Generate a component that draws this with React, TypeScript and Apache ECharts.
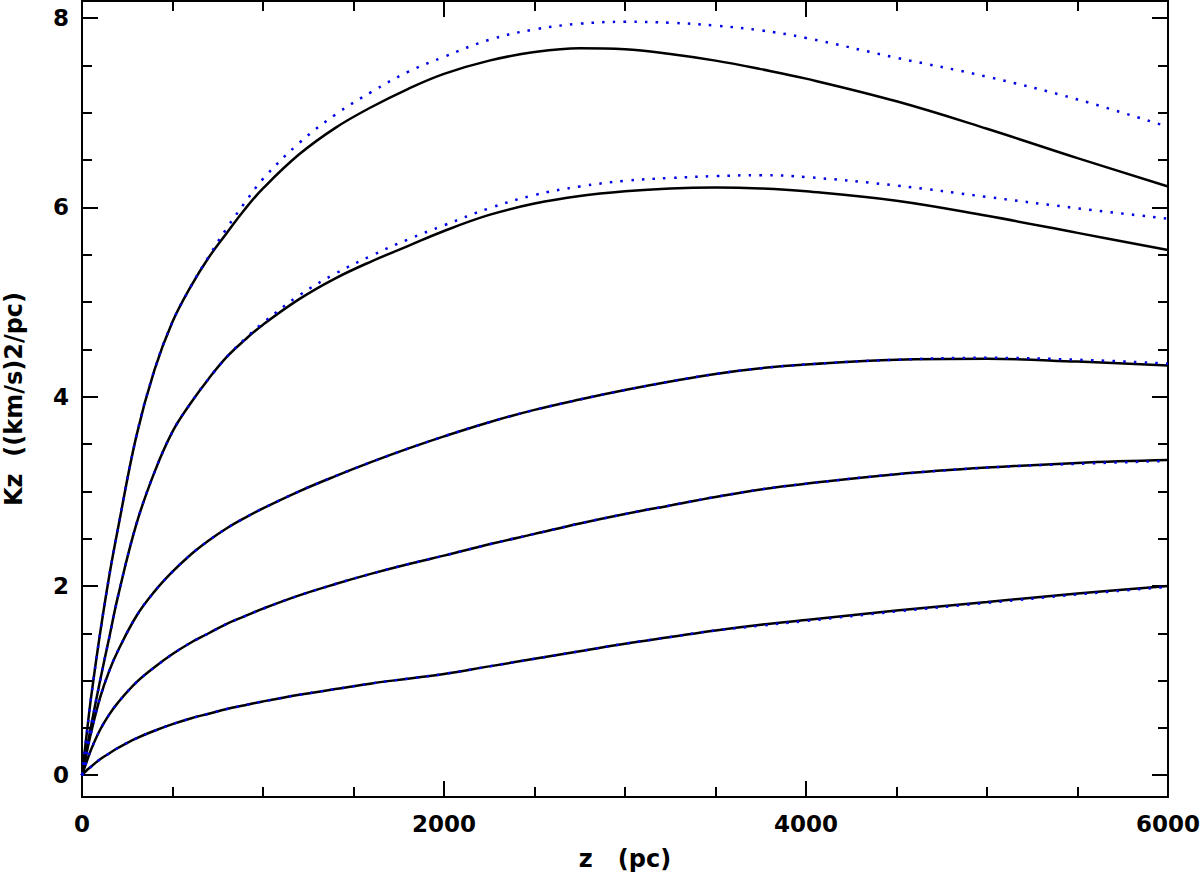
import React, { useEffect, useRef } from "react";
import * as echarts from "echarts";

// z (pc) sample positions shared by every curve
const Z = [0, 25, 50, 100, 150, 200, 300, 400, 500, 600, 700, 800, 900, 1000, 1200, 1400, 1600, 1800, 2000, 2250, 2500, 2750, 3000, 3250, 3500, 3750, 4000, 4500, 5000, 5500, 6000];

// Kz values, solid (black) and dotted (blue) pairs
const A_solid = [0, 0.42, 0.82, 1.5, 2.1, 2.62, 3.58, 4.28, 4.79, 5.16, 5.47, 5.73, 5.98, 6.2, 6.56, 6.84, 7.06, 7.25, 7.41, 7.55, 7.64, 7.68, 7.67, 7.62, 7.55, 7.46, 7.36, 7.12, 6.83, 6.52, 6.22];
const A_dot = [0, 0.42, 0.82, 1.5, 2.1, 2.62, 3.58, 4.28, 4.79, 5.16, 5.48, 5.78, 6.05, 6.3, 6.68, 6.98, 7.22, 7.43, 7.59, 7.77, 7.88, 7.94, 7.96, 7.95, 7.92, 7.87, 7.79, 7.58, 7.38, 7.14, 6.85];
const B_solid = [0, 0.26, 0.52, 1.0, 1.45, 1.9, 2.65, 3.2, 3.63, 3.93, 4.19, 4.42, 4.6, 4.76, 5.03, 5.25, 5.43, 5.59, 5.75, 5.92, 6.04, 6.12, 6.17, 6.2, 6.21, 6.2, 6.17, 6.07, 5.91, 5.73, 5.55];
const B_dot = [0, 0.26, 0.52, 1.0, 1.45, 1.9, 2.65, 3.2, 3.63, 3.93, 4.19, 4.42, 4.61, 4.78, 5.07, 5.3, 5.49, 5.66, 5.81, 5.99, 6.13, 6.22, 6.28, 6.31, 6.33, 6.34, 6.32, 6.23, 6.11, 5.99, 5.88];
const C_solid = [0, 0.23, 0.45, 0.82, 1.1, 1.32, 1.68, 1.94, 2.15, 2.33, 2.48, 2.61, 2.72, 2.82, 3.0, 3.16, 3.31, 3.45, 3.58, 3.73, 3.86, 3.97, 4.07, 4.16, 4.24, 4.3, 4.34, 4.39, 4.4, 4.37, 4.33];
const C_dot = [0, 0.23, 0.45, 0.82, 1.1, 1.32, 1.68, 1.94, 2.15, 2.33, 2.48, 2.61, 2.72, 2.82, 3.0, 3.16, 3.31, 3.45, 3.58, 3.73, 3.86, 3.97, 4.07, 4.16, 4.24, 4.3, 4.34, 4.39, 4.41, 4.39, 4.35];
const D_solid = [0, 0.14, 0.27, 0.48, 0.64, 0.77, 0.98, 1.14, 1.28, 1.4, 1.5, 1.6, 1.68, 1.76, 1.9, 2.02, 2.13, 2.23, 2.32, 2.44, 2.55, 2.66, 2.76, 2.85, 2.94, 3.02, 3.08, 3.18, 3.25, 3.3, 3.33];
const D_dot = [0, 0.14, 0.27, 0.48, 0.64, 0.77, 0.98, 1.14, 1.28, 1.4, 1.5, 1.6, 1.68, 1.76, 1.9, 2.02, 2.13, 2.23, 2.32, 2.44, 2.55, 2.66, 2.76, 2.85, 2.94, 3.02, 3.08, 3.18, 3.25, 3.29, 3.32];
const E_solid = [0, 0.05, 0.09, 0.17, 0.23, 0.29, 0.39, 0.47, 0.54, 0.6, 0.65, 0.7, 0.74, 0.78, 0.85, 0.91, 0.97, 1.02, 1.07, 1.15, 1.23, 1.31, 1.39, 1.46, 1.53, 1.59, 1.64, 1.74, 1.83, 1.92, 2.0];
const E_dot = [0, 0.05, 0.09, 0.17, 0.23, 0.29, 0.39, 0.47, 0.54, 0.6, 0.65, 0.7, 0.74, 0.78, 0.85, 0.91, 0.97, 1.02, 1.07, 1.15, 1.23, 1.31, 1.39, 1.46, 1.53, 1.58, 1.63, 1.73, 1.82, 1.91, 1.99];

const Y_MAJOR = [0, 2, 4, 6, 8];
const Y_MINOR = [0, 0.5, 1, 1.5, 2, 2.5, 3, 3.5, 4, 4.5, 5, 5.5, 6, 6.5, 7, 7.5, 8];

const FONT = "DejaVu Sans";

export default function App() {
  const ref = useRef<HTMLDivElement>(null);
  useEffect(() => {
    document.body.style.margin = "0";
    const chart = echarts.init(ref.current!, null, { renderer: "svg" });
    const toData = (v: number[]) => Z.map((z, i) => [z, v[i]]);
    const solid = (v: number[]) => ({
      type: "line",
      data: toData(v),
      showSymbol: false,
      smooth: 0.4,
      lineStyle: { color: "#000", width: 2.5 },
      z: 2,
    });
    const dotted = (v: number[]) => ({
      type: "line",
      data: toData(v),
      showSymbol: false,
      smooth: 0.4,
      lineStyle: { color: "#0000e6", width: 2.5, type: [2.5, 8.2], cap: "butt" },
      z: 3,
    });
    const axisLine = { show: true, onZero: false, lineStyle: { color: "#000", width: 2 } };
    const yBase = { type: "value", min: -0.23, max: 8.18, splitLine: { show: false }, axisLine };
    const xBase = {
      type: "value",
      min: 0,
      max: 6000,
      interval: 2000,
      splitLine: { show: false },
      axisLine,
      axisTick: { show: true, inside: true, length: 16, lineStyle: { color: "#000", width: 2 } },
      minorTick: { show: true, splitNumber: 4, length: 10, lineStyle: { color: "#000", width: 2 } },
      minorSplitLine: { show: false },
    };
    const nameStyle = { fontFamily: FONT, fontSize: 24, fontWeight: "bold", color: "#000" };
    const labelStyle = { fontFamily: FONT, fontSize: 23, fontWeight: "bold", color: "#000" };
    chart.setOption({
      animation: false,
      backgroundColor: "#fff",
      grid: { left: 82, right: 32, top: 1, bottom: 78, outerBoundsMode: "none", containLabel: false },
      xAxis: [
        {
          ...xBase,
          position: "bottom",
          name: "z   (pc)",
          nameLocation: "middle",
          nameGap: 50,
          nameTextStyle: nameStyle,
          axisLabel: { show: true, margin: 15, ...labelStyle, formatter: (v: number) => String(v) },
        },
        { ...xBase, position: "top", axisLabel: { show: false } },
      ],
      yAxis: [
        {
          ...yBase,
          position: "left",
          name: "Kz  ((km/s)2/pc)",
          nameLocation: "middle",
          nameGap: 56,
          nameTextStyle: nameStyle,
          axisTick: { show: true, inside: true, length: 16, customValues: Y_MAJOR, lineStyle: { color: "#000", width: 2 } },
          axisLabel: { show: true, margin: 13, customValues: Y_MAJOR, ...labelStyle, formatter: (v: number) => String(v) },
        },
        {
          ...yBase,
          position: "left",
          axisTick: { show: true, inside: true, length: 10, customValues: Y_MINOR, lineStyle: { color: "#000", width: 2 } },
          axisLabel: { show: false },
        },
        {
          ...yBase,
          position: "right",
          axisTick: { show: true, inside: true, length: 16, customValues: Y_MAJOR, lineStyle: { color: "#000", width: 2 } },
          axisLabel: { show: false },
        },
        {
          ...yBase,
          position: "right",
          axisTick: { show: true, inside: true, length: 10, customValues: Y_MINOR, lineStyle: { color: "#000", width: 2 } },
          axisLabel: { show: false },
        },
      ],
      series: [
        solid(A_solid), solid(B_solid), solid(C_solid), solid(D_solid), solid(E_solid),
        dotted(A_dot), dotted(B_dot), dotted(C_dot), dotted(D_dot), dotted(E_dot),
      ],
    });
    return () => chart.dispose();
  }, []);
  return <div ref={ref} style={{ width: 1200, height: 875 }} />;
}
